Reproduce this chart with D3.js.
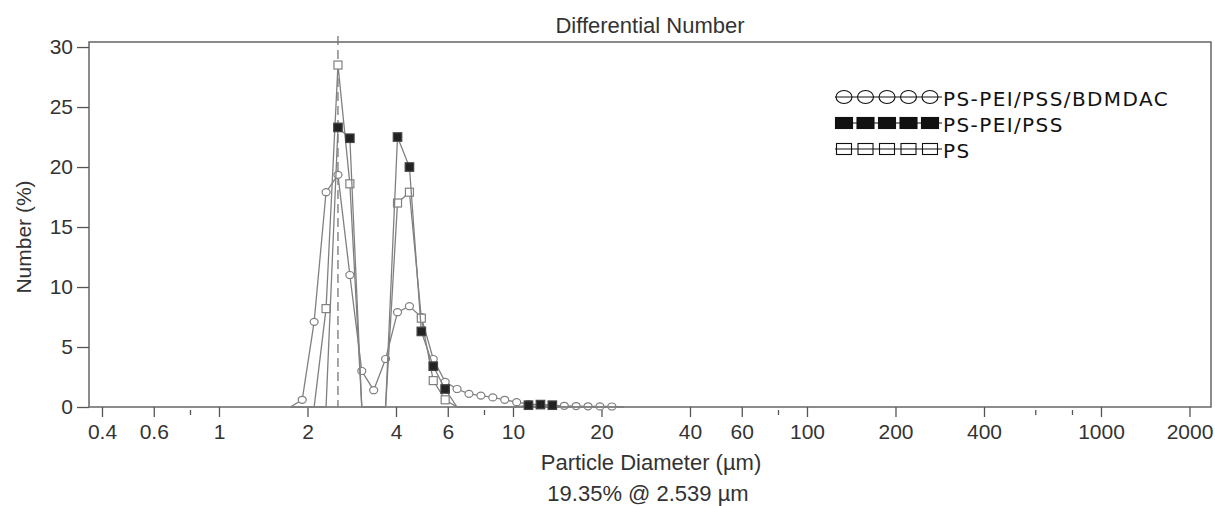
<!DOCTYPE html>
<html>
<head>
<meta charset="utf-8">
<script src="https://cdn.jsdelivr.net/npm/d3@7"></script>
<style>
  body { margin: 0; background: #fff; }
  svg text { font-family: "Liberation Sans", Arial, sans-serif; fill: #333; }
  .legend text { font-family: "DejaVu Sans", sans-serif; fill: #111; }
</style>
</head>
<body>
<svg id="svg" width="1215" height="506"></svg>
<script>
// channel centres (um)
const diameters = [1.749, 1.919, 2.107, 2.313, 2.539, 2.787, 3.060, 3.359, 3.687, 4.048,
  4.444, 4.878, 5.355, 5.879, 6.453, 7.084, 7.777, 8.537, 9.371, 10.29,
  11.29, 12.40, 13.61, 14.94, 16.40, 18.00, 19.76, 21.69, 23.81];

// Number (%) per channel
const bdmdac = [0, 0.6, 7.1, 17.9, 19.35, 11.0, 3.0, 1.4, 4.0, 7.9,
  8.4, 7.5, 4.0, 2.1, 1.5, 1.1, 0.95, 0.8, 0.6, 0.4,
  0.25, 0.18, 0.14, 0.1, 0.08, 0.06, 0.05, 0.04, 0];
const peiPss = [0, 0, 0, 0, 23.3, 22.4, 0, 0, 0, 22.5,
  20.0, 6.3, 3.4, 1.5, 0, 0, 0, 0, 0, 0,
  0.15, 0.2, 0.15, 0, 0, 0, 0, 0, 0];
const ps = [0, 0, 0, 8.2, 28.5, 18.6, 0, 0, 0, 17.0,
  17.9, 7.4, 2.2, 0.6, 0, 0, 0, 0, 0, 0,
  0, 0, 0, 0, 0, 0, 0, 0, 0];

const seriesNames = ["PS-PEI/PSS/BDMDAC", "PS-PEI/PSS", "PS"];
const xTicksMajor = [0.4, 0.6, 1, 2, 4, 6, 10, 20, 40, 60, 100, 200, 400, 1000, 2000];
const xTicksMinor = [0.8, 8, 80, 600, 800];
const yTicks = [0, 5, 10, 15, 20, 25, 30];
const cursorD = 2.539;

const svg = d3.select("#svg");
const pLeft = 89, pRight = 1211, pTop = 42, pBottom = 407;

const x = d3.scaleLog().domain([0.3613, 2367]).range([pLeft, pRight]);
const y = d3.scaleLinear().domain([0, 30.42]).range([pBottom, pTop]);

// frame
svg.append("rect")
  .attr("x", pLeft).attr("y", pTop)
  .attr("width", pRight - pLeft).attr("height", pBottom - pTop)
  .attr("fill", "none").attr("stroke", "#666").attr("stroke-width", 1.5);

// axes
const gx = svg.append("g").attr("transform", `translate(0,${pBottom})`)
  .call(d3.axisBottom(x).tickValues(xTicksMajor).tickFormat(d3.format("~g"))
    .tickSize(10).tickPadding(7).tickSizeOuter(0));
gx.select(".domain").remove();
gx.selectAll("line").attr("stroke", "#555").attr("stroke-width", 1.3);
gx.selectAll("text").style("font-size", "21px").attr("fill", "#333");

svg.append("g").selectAll("line").data(xTicksMinor).join("line")
  .attr("x1", d => x(d)).attr("x2", d => x(d))
  .attr("y1", pBottom + 3).attr("y2", pBottom + 8)
  .attr("stroke", "#555").attr("stroke-width", 1.3);

const gy = svg.append("g").attr("transform", `translate(${pLeft},0)`)
  .call(d3.axisLeft(y).tickValues(yTicks).tickSize(12).tickPadding(4).tickSizeOuter(0));
gy.select(".domain").remove();
gy.selectAll("line").attr("stroke", "#555").attr("stroke-width", 1.3);
gy.selectAll("text").style("font-size", "21px").attr("fill", "#333");

// titles
svg.append("text").attr("x", 650).attr("y", 33).attr("text-anchor", "middle")
  .style("font-size", "22px").text("Differential Number");
svg.append("text").attr("x", 651).attr("y", 470).attr("text-anchor", "middle")
  .style("font-size", "22px").text("Particle Diameter (µm)");
svg.append("text").attr("x", 648).attr("y", 501).attr("text-anchor", "middle")
  .style("font-size", "22px").text("19.35% @ 2.539 µm");
svg.append("text")
  .attr("transform", "translate(31,237) rotate(-90)")
  .attr("text-anchor", "middle").style("font-size", "21px").text("Number (%)");

// cursor
svg.append("line")
  .attr("x1", x(cursorD)).attr("x2", x(cursorD))
  .attr("y1", pTop - 6).attr("y2", pBottom)
  .attr("stroke", "#777").attr("stroke-width", 1.3).attr("stroke-dasharray", "9,5");

const line = d3.line().x(d => x(d[0])).y(d => y(d[1]));

function drawSeries(values, marker) {
  const pts = diameters.map((d, i) => [d, values[i]]);
  svg.append("path").datum(pts)
    .attr("d", line).attr("fill", "none")
    .attr("stroke", "#808080").attr("stroke-width", 1.3);
  const g = svg.append("g");
  const shown = pts.filter(p => p[1] > 0);
  if (marker === "circle") {
    g.selectAll("ellipse").data(shown).join("ellipse")
      .attr("cx", d => x(d[0])).attr("cy", d => y(d[1])).attr("rx", 4).attr("ry", 3.5)
      .attr("fill", "#fff").attr("stroke", "#808080").attr("stroke-width", 1.2);
  } else {
    const s = marker === "filled" ? 8.5 : 8;
    g.selectAll("rect").data(shown).join("rect")
      .attr("x", d => x(d[0]) - s / 2).attr("y", d => y(d[1]) - s / 2)
      .attr("width", s).attr("height", s)
      .attr("fill", marker === "filled" ? "#222" : "#fff")
      .attr("stroke", marker === "filled" ? "#444" : "#808080").attr("stroke-width", 1.2);
  }
}

drawSeries(bdmdac, "circle");
drawSeries(ps, "open");
drawSeries(peiPss, "filled");

// legend
const legend = svg.append("g").attr("class", "legend");
const legendY = [97, 123, 149];
const legendMarks = ["circle", "filled", "open"];
const lx = d3.range(5).map(i => 844 + i * 21.5);
seriesNames.forEach((name, k) => {
  const ly = legendY[k];
  legend.append("line").attr("x1", 835).attr("x2", 942).attr("y1", ly).attr("y2", ly)
    .attr("stroke", "#111").attr("stroke-width", 1.2);
  lx.forEach(cx => {
    if (legendMarks[k] === "circle") {
      legend.append("ellipse").attr("cx", cx).attr("cy", ly).attr("rx", 8).attr("ry", 6.5)
        .attr("fill", "none").attr("stroke", "#111").attr("stroke-width", 1.1);
    } else {
      const w = legendMarks[k] === "filled" ? 17 : 15;
      legend.append("rect").attr("x", cx - w / 2).attr("y", ly - 5.5).attr("width", w).attr("height", 11)
        .attr("fill", legendMarks[k] === "filled" ? "#111" : "none")
        .attr("stroke", "#111").attr("stroke-width", 1.1);
    }
  });
  legend.append("text").attr("x", 943).attr("y", ly + 9)
    .style("font-size", "20px").style("letter-spacing", "1.4px").text(name);
});
</script>
</body>
</html>
